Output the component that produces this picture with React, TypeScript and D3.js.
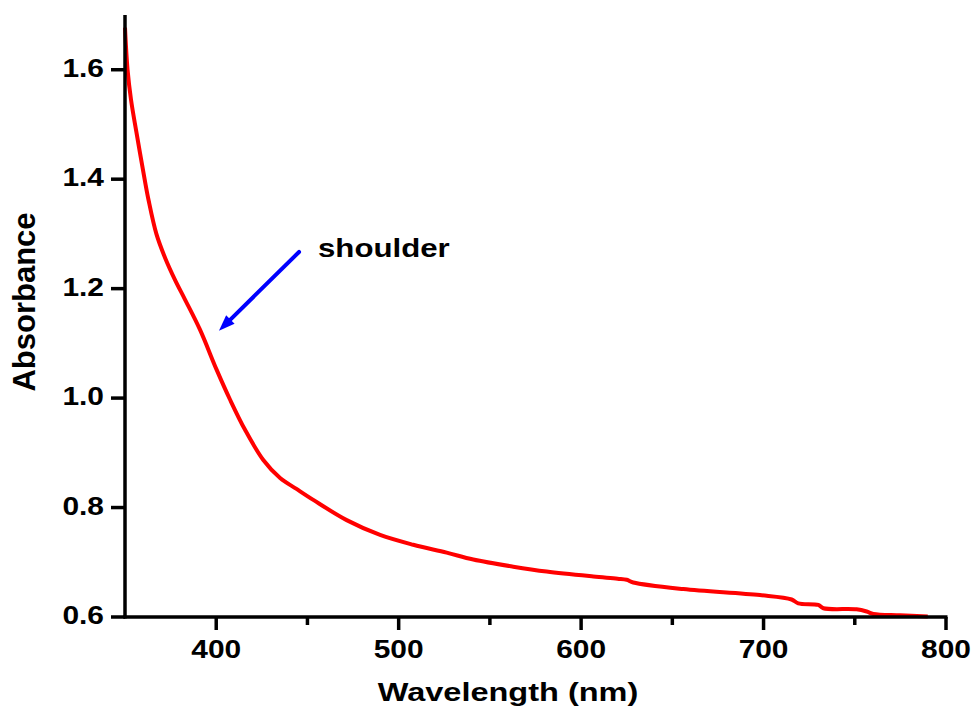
import React from "react";
import * as d3 from "d3";

// spectrum
const wavelength = [
  350, 351.4, 353.3, 356.3, 360.7, 362.9, 367.2, 372, 377.4, 382.9, 391.1, 400.2, 407.6, 415.8,
  425.8, 435, 444, 453.2, 471.5, 489.8, 508, 526.3, 540.9, 562.8, 581.1, 606.7, 620, 625,
  628.6, 656, 698, 715.4, 719, 730, 732.8, 751, 756.5, 760.2, 774.8, 790,
];
const absorbance = [
  1.677, 1.6, 1.545, 1.485, 1.401, 1.362, 1.3, 1.256, 1.216, 1.18, 1.125, 1.052, 0.997, 0.942,
  0.887, 0.854, 0.834, 0.814, 0.777, 0.75, 0.732, 0.7176, 0.705, 0.692, 0.683, 0.674, 0.67, 0.668,
  0.663, 0.651, 0.64, 0.632, 0.625, 0.622, 0.616, 0.614, 0.61, 0.6055, 0.603, 0.601,
];

const xTicks = [400, 500, 600, 700, 800];
const xMinorTicks = [450, 550, 650, 750];
const yTicks = [0.6, 0.8, 1.0, 1.2, 1.4, 1.6];

const arrowFrom = [445.4, 1.267];
const arrowTo = [401.5, 1.123];
const noteAt = [455.8, 1.258];
const noteText = "shoulder";

const W = 977;
const H = 708;
const FONT = "'Liberation Sans', Arial, sans-serif";

export default function App() {
  const x = d3.scaleLinear().domain([350, 800]).range([125, 946]);
  const y = d3.scaleLinear().domain([0.6, 1.7]).range([617, 15]);

  const points: [number, number][] = wavelength.map((w, i) => [w, absorbance[i]]);
  const line = d3
    .line<[number, number]>()
    .x((d) => x(d[0]))
    .y((d) => y(d[1]))
    .curve(d3.curveCatmullRom.alpha(0.5));

  // arrow, drawn in pixel space from the scaled ends
  const x1 = x(arrowFrom[0]);
  const y1 = y(arrowFrom[1]);
  const x2 = x(arrowTo[0]);
  const y2 = y(arrowTo[1]);
  const ang = Math.atan2(y2 - y1, x2 - x1);
  const headLen = 16;
  const headW = 6;
  const bx = x2 - headLen * Math.cos(ang);
  const by = y2 - headLen * Math.sin(ang);
  const nx = -Math.sin(ang);
  const ny = Math.cos(ang);
  const head = `${x2},${y2} ${bx + nx * headW},${by + ny * headW} ${bx - nx * headW},${by - ny * headW}`;

  const y0 = y(0.6);

  return (
    <svg
      width={W}
      height={H}
      style={{ position: "absolute", left: 0, top: 0, background: "#fff" }}
      fontFamily={FONT}
      fontWeight="bold"
    >
      <path d={line(points) ?? ""} fill="none" stroke="#ff0000" strokeWidth={4} strokeLinejoin="round" />

      {/* axes */}
      <line x1={x(350)} x2={x(350)} y1={y(1.7)} y2={y0 + 1.5} stroke="#000" strokeWidth={3.5} />
      <line x1={x(350) - 1.5} x2={x(800) + 1.5} y1={y0} y2={y0} stroke="#000" strokeWidth={3.5} />

      {xTicks.map((t) => (
        <g key={"x" + t}>
          <line x1={x(t)} x2={x(t)} y1={y0} y2={y0 + 13} stroke="#000" strokeWidth={3.5} />
          <g transform={`translate(${x(t)},${y0 + 41}) scale(1.15,1)`}>
            <text textAnchor="middle" fontSize={26} fill="#000">
              {t}
            </text>
          </g>
        </g>
      ))}
      {xMinorTicks.map((t) => (
        <line key={"m" + t} x1={x(t)} x2={x(t)} y1={y0} y2={y0 + 8} stroke="#000" strokeWidth={3.5} />
      ))}
      {yTicks.map((t) => (
        <g key={"y" + t}>
          <line x1={x(350) - 14} x2={x(350)} y1={y(t)} y2={y(t)} stroke="#000" strokeWidth={3.5} />
          <g transform={`translate(${x(350) - 21},${y(t) + 7}) scale(1.15,1)`}>
            <text textAnchor="end" fontSize={26} fill="#000">
              {t.toFixed(1)}
            </text>
          </g>
        </g>
      ))}

      {/* axis titles */}
      <g transform={`translate(508,701) scale(1.25,1)`}>
        <text textAnchor="middle" fontSize={26} fill="#000">
          Wavelength (nm)
        </text>
      </g>
      <g transform={`translate(35,302) rotate(-90)`}>
        <text textAnchor="middle" fontSize={31} fill="#000">
          Absorbance
        </text>
      </g>

      {/* annotation */}
      <line x1={x1} y1={y1} x2={bx} y2={by} stroke="#0000ff" strokeWidth={4} strokeLinecap="round" />
      <polygon points={head} fill="#0000ff" />
      <g transform={`translate(${x(noteAt[0])},${y(noteAt[1])}) scale(1.2,1)`}>
        <text fontSize={26} fill="#000">
          {noteText}
        </text>
      </g>
    </svg>
  );
}
